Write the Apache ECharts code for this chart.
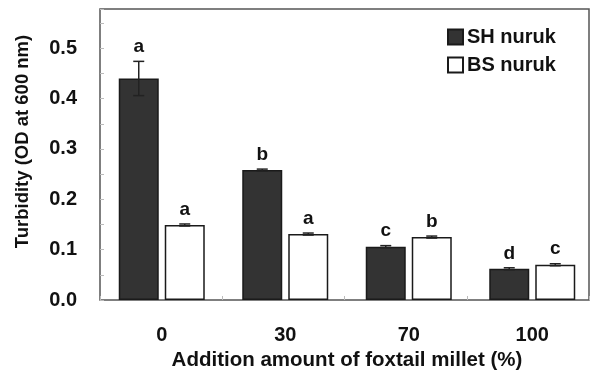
<!DOCTYPE html>
<html><head><meta charset="utf-8">
<script src="https://cdn.jsdelivr.net/npm/echarts@6/dist/echarts.min.js"></script>
<style>html,body{margin:0;padding:0;background:#fff}#c{width:595px;height:371px}</style>
</head><body><div id="c"></div>
<script>
var categories = ['0', '30', '70', '100'];
var shValues = [0.440, 0.258, 0.106, 0.062];
var bsValues = [0.149, 0.131, 0.125, 0.070];
var shErrors = [0.034, 0.002, 0.002, 0.002];
var bsErrors = [0.002, 0.002, 0.002, 0.002];
var shLetters = ['a', 'b', 'c', 'd'];
var bsLetters = ['a', 'a', 'b', 'c'];
var seriesNames = ['SH nuruk', 'BS nuruk'];
var yTicks = [0, 0.1, 0.2, 0.3, 0.4, 0.5];

var FONT = '"Liberation Sans", Arial, sans-serif';
var BAR_W = 40, BAR_GAP = 6;

function errData(vals, errs, letters) {
  return vals.map(function (v, i) { return [i, v, errs[i], letters[i]]; });
}
function errSeries(vals, errs, letters, side) {
  return {
    type: 'custom', xAxisIndex: 0, yAxisIndex: 0, z: 5,
    data: errData(vals, errs, letters),
    renderItem: function (params, api) {
      var i = api.value(0), v = api.value(1), e = api.value(2), letter = api.value(3);
      var c = api.coord([i, v]);
      var x = c[0] + side * (BAR_W + BAR_GAP) / 2;
      var top = api.coord([i, v + e])[1];
      var bot = api.coord([i, v - e])[1];
      var cap = 5.5;
      return {
        type: 'group', children: [
          { type: 'line', shape: { x1: x, y1: top, x2: x, y2: bot }, style: { stroke: '#222', lineWidth: 1.5 } },
          { type: 'line', shape: { x1: x - cap, y1: top, x2: x + cap, y2: top }, style: { stroke: '#222', lineWidth: 1.5 } },
          { type: 'line', shape: { x1: x - cap, y1: bot, x2: x + cap, y2: bot }, style: { stroke: '#222', lineWidth: 1.5 } },
          { type: 'text', style: { x: x, y: top - 5, text: letter, align: 'center', verticalAlign: 'bottom',
              font: 'bold 19px ' + FONT, fill: '#111' } }
        ]
      };
    }
  };
}

var chart = echarts.init(document.getElementById('c'), null, { renderer: 'canvas' });
chart.setOption({
  animation: false,
  backgroundColor: '#fff',
  grid: [
    { left: 100, right: 1, top: 9, bottom: 71, show: false, containLabel: false, outerBoundsMode: 'none' },
    { left: 100, right: 6, top: 9, bottom: 71, show: true, containLabel: false, outerBoundsMode: 'none',
      borderColor: '#555', borderWidth: 1.5, backgroundColor: 'transparent' }
  ],
  legend: {
    orient: 'vertical', left: 442, top: 22, itemWidth: 15, itemHeight: 15, itemGap: 8,
    icon: 'rect',
    data: seriesNames,
    textStyle: { fontFamily: FONT, fontWeight: 'bold', fontSize: 20, lineHeight: 20, color: '#111', padding: [0, 0, 0, -1] }
  },
  xAxis: [
    { type: 'category', gridIndex: 0, data: categories, boundaryGap: true,
      axisLine: { show: false }, axisTick: { show: false },
      axisLabel: { margin: 25, fontFamily: FONT, fontWeight: 'bold', fontSize: 20, color: '#111' },
      name: 'Addition amount of foxtail millet (%)', nameLocation: 'middle', nameGap: 49,
      nameTextStyle: { fontFamily: FONT, fontWeight: 'bold', fontSize: 20.5, color: '#111' } },
    { type: 'category', gridIndex: 1, data: categories, boundaryGap: true,
      axisLine: { show: false },
      axisTick: { show: true, inside: true, length: 4, lineStyle: { color: '#bbb' } },
      axisLabel: { show: false } }
  ],
  yAxis: [
    { type: 'value', gridIndex: 0, min: 0, max: 0.578, show: false },
    { type: 'value', gridIndex: 1, min: 0, max: 0.578, interval: 0.1,
      axisLine: { show: false }, splitLine: { show: false },
      axisTick: { show: true, inside: true, length: 4, lineStyle: { color: '#bbb' } },
      minorTick: { show: true, splitNumber: 2, length: 4, lineStyle: { color: '#bbb' } },
      axisLabel: { margin: 23, showMaxLabel: false, fontFamily: FONT, fontWeight: 'bold', fontSize: 20, color: '#111',
        formatter: function (v) { return yTicks.indexOf(Math.round(v * 10) / 10) >= 0 ? v.toFixed(1) : ''; } },
      name: 'Turbidity (OD at 600 nm)', nameLocation: 'middle', nameGap: 68,
      nameTextStyle: { fontFamily: FONT, fontWeight: 'bold', fontSize: 18.5, color: '#111', padding: [0, 0, 0, 26] } }
  ],
  series: [
    { name: seriesNames[0], type: 'bar', xAxisIndex: 0, yAxisIndex: 0, data: shValues,
      barWidth: BAR_W, barGap: (BAR_GAP / BAR_W * 100) + '%',
      itemStyle: { color: '#333', borderColor: '#1a1a1a', borderWidth: 1.5 } },
    { name: seriesNames[1], type: 'bar', xAxisIndex: 0, yAxisIndex: 0, data: bsValues,
      barWidth: BAR_W,
      itemStyle: { color: '#fff', borderColor: '#1a1a1a', borderWidth: 1.5 } },
    errSeries(shValues, shErrors, shLetters, -1),
    errSeries(bsValues, bsErrors, bsLetters, 1)
  ]
});
</script></body></html>
